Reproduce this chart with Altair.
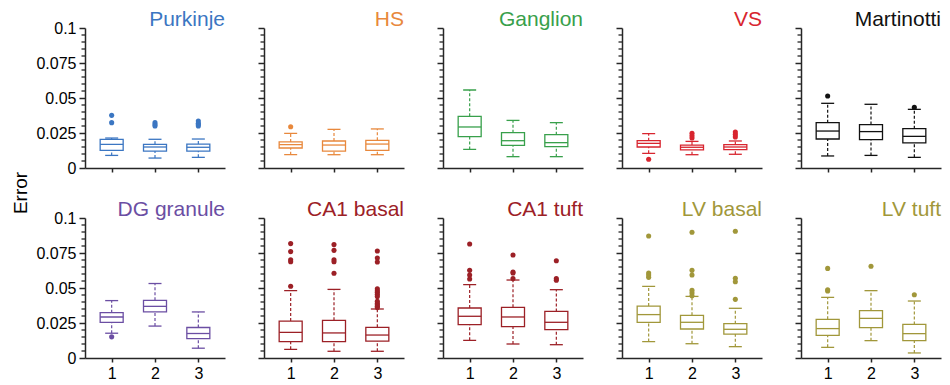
import altair as alt
import pandas as pd

names = ["Purkinje", "HS", "Ganglion", "VS", "Martinotti",
         "DG granule", "CA1 basal", "CA1 tuft", "LV basal", "LV tuft"]
colors = ["#3b76c2", "#e8883c", "#38a04b", "#d8252f", "#111111",
          "#6b4ea3", "#9c2026", "#9c2026", "#a1973a", "#a1973a"]
groups = [1, 2, 3]

q1 = [[0.0126, 0.0121, 0.0121], [0.0143, 0.0121, 0.0126], [0.0224, 0.0162, 0.0152],
      [0.0150, 0.0129, 0.0131], [0.0207, 0.0202, 0.0179],
      [0.0254, 0.0329, 0.0139], [0.0117, 0.0117, 0.0121], [0.0238, 0.0224, 0.0202],
      [0.0255, 0.0207, 0.0171], [0.0162, 0.0217, 0.0124]]
med = [[0.0169, 0.0150, 0.0148], [0.0167, 0.0164, 0.0171], [0.0293, 0.0195, 0.0181],
       [0.0176, 0.0148, 0.0150], [0.0264, 0.0260, 0.0226],
       [0.0293, 0.0369, 0.0175], [0.0183, 0.0179, 0.0164], [0.0298, 0.0293, 0.0255],
       [0.0310, 0.0255, 0.0205], [0.0210, 0.0283, 0.0174]]
q3 = [[0.0205, 0.0169, 0.0171], [0.0186, 0.0193, 0.0198], [0.0369, 0.0252, 0.0238],
      [0.0195, 0.0164, 0.0167], [0.0324, 0.0310, 0.0281],
      [0.0324, 0.0412, 0.0218], [0.0264, 0.0269, 0.0219], [0.0357, 0.0362, 0.0333],
      [0.0371, 0.0305, 0.0245], [0.0276, 0.0338, 0.0240]]
lo = [[0.0090, 0.0071, 0.0076], [0.0095, 0.0095, 0.0095], [0.0133, 0.0081, 0.0081],
      [0.0105, 0.0095, 0.0098], [0.0086, 0.0090, 0.0076],
      [0.0177, 0.0228, 0.0070], [0.0062, 0.0048, 0.0048], [0.0126, 0.0100, 0.0095],
      [0.0117, 0.0102, 0.0081], [0.0076, 0.0124, 0.0036]]
hi = [[0.0214, 0.0205, 0.0207], [0.0248, 0.0276, 0.0279], [0.0557, 0.0340, 0.0324],
      [0.0245, 0.0190, 0.0193], [0.0462, 0.0455, 0.0419],
      [0.0410, 0.0532, 0.0329], [0.0481, 0.0490, 0.0350], [0.0524, 0.0557, 0.0488],
      [0.0512, 0.0440, 0.0355], [0.0433, 0.0481, 0.0407]]
outliers = [
    [[0.0376, 0.0324], [0.0324, 0.0310, 0.0300], [0.0336, 0.0320, 0.0310, 0.0300]],
    [[0.0295], [], []],
    [[], [], []],
    [[0.0062], [0.0248, 0.0230, 0.0214], [0.0257, 0.0240, 0.0222]],
    [[0.0514], [], [0.0433]],
    [[0.0151], [], []],
    [[0.0817, 0.0760, 0.0702, 0.0688, 0.0512],
     [0.0810, 0.0769, 0.0702, 0.0688, 0.0605],
     [0.0764, 0.0714, 0.0686, 0.0495, 0.0480, 0.0470, 0.0455, 0.0440,
      0.0405, 0.0390, 0.0380, 0.0370, 0.0360]],
    [[0.0814, 0.0626, 0.0593, 0.0564], [0.0736, 0.0614, 0.0607, 0.0567],
     [0.0695, 0.0567, 0.0555]],
    [[0.0871, 0.0607, 0.0593, 0.0576],
     [0.0898, 0.0626, 0.0593, 0.0483, 0.0464, 0.0445],
     [0.0905, 0.0569, 0.0545, 0.0419]],
    [[0.0640, 0.0488, 0.0479], [0.0655], [0.0452]],
]
y_major = [0, 0.025, 0.05, 0.075, 0.1]
y_minor = [0.005, 0.01, 0.015, 0.02, 0.03, 0.035, 0.04, 0.045,
           0.055, 0.06, 0.065, 0.07, 0.08, 0.085, 0.09, 0.095]
x_ticks = [1, 2, 3]
y_title = "Error"

W, H = 140, 140
AX = "#262626"
FONT = "Liberation Sans"


def panel(i):
    row, col = divmod(i, 5)
    c = colors[i]
    xs = alt.Scale(domain=[0.5, 3.5], nice=False, zero=False)
    ys = alt.Scale(domain=[0, 0.1], nice=False, zero=False)
    xax = alt.Axis(values=x_ticks, format="d", labels=(row == 1), tickSize=4,
                   grid=False, title=None, labelPadding=3)
    yax = alt.Axis(values=y_major, labelExpr="'' + datum.value", labels=(col == 0),
                   tickSize=6, grid=False, title=None, labelPadding=3)

    def X():
        return alt.X("g:Q", scale=xs, axis=xax)

    def Y(f):
        return alt.Y(f + ":Q", scale=ys, axis=yax)

    df = pd.DataFrame({"g": groups, "q1": q1[i], "med": med[i], "q3": q3[i],
                       "lo": lo[i], "hi": hi[i]})
    base = alt.Chart(df)
    wh_up = base.mark_rule(color=c, strokeWidth=1.2, strokeDash=[3, 2]).encode(
        x=X(), y=Y("q3"), y2="hi:Q")
    wh_lo = base.mark_rule(color=c, strokeWidth=1.2, strokeDash=[3, 2]).encode(
        x=X(), y=Y("lo"), y2="q1:Q")
    cap_hi = base.mark_tick(orient="horizontal", size=13, thickness=1.3, color=c,
                            opacity=1).encode(x=X(), y=Y("hi"))
    cap_lo = base.mark_tick(orient="horizontal", size=13, thickness=1.3, color=c,
                            opacity=1).encode(x=X(), y=Y("lo"))
    box = base.mark_bar(size=23, fill="white", stroke=c, strokeWidth=1.3).encode(
        x=X(), y=Y("q1"), y2="q3:Q")
    mline = base.mark_tick(orient="horizontal", size=23, thickness=1.3, color=c,
                           opacity=1).encode(x=X(), y=Y("med"))
    orows = [{"g": g, "v": v} for g, vals in zip(groups, outliers[i]) for v in vals]
    odf = pd.DataFrame(orows if orows else [{"g": 1, "v": -1.0}])
    pts = alt.Chart(odf).transform_filter("datum.v >= 0").mark_circle(
        size=26, color=c, opacity=1).encode(x=X(), y=Y("v"))
    mdf = pd.DataFrame({"m": y_minor})
    minor = alt.Chart(mdf).mark_rule(color=AX, strokeWidth=1.3).encode(
        y=Y("m"), x=alt.value(0), x2=alt.value(-3.5))
    tdf = pd.DataFrame({"t": [names[i]]})
    title = alt.Chart(tdf).mark_text(align="right", baseline="alphabetic",
                                     fontSize=21, font=FONT, color=c).encode(
        text="t:N", x=alt.value(W), y=alt.value(-2))
    layers = [minor, wh_up, wh_lo, cap_hi, cap_lo, box, mline, pts, title]
    if i == 0:
        edf = pd.DataFrame({"t": [y_title]})
        err = alt.Chart(edf).mark_text(angle=270, align="center", baseline="middle",
                                       fontSize=19, font=FONT, color="black").encode(
            text="t:N", x=alt.value(-64), y=alt.value(H + 25))
        layers.append(err)
    return alt.layer(*layers).properties(width=W, height=H)


chart = alt.concat(*[panel(i) for i in range(10)], columns=5,
                   spacing={"row": 50, "column": 39}, bounds="flush").properties(
    padding={"left": 3, "top": 0, "right": 0, "bottom": 0}).configure_view(
    stroke="transparent").configure_axis(
    domainColor=AX, domainWidth=1.5, tickColor=AX, tickWidth=1.5,
    labelFont=FONT, labelFontSize=16, labelColor="black")

chart.save("out.html", embed_options={"renderer": "svg", "actions": False})
